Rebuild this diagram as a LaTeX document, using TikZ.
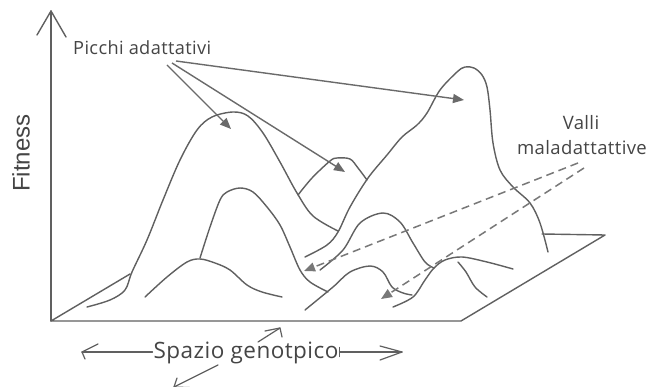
\documentclass[tikz,border=0pt]{standalone}
\usepackage{fontspec}
\setmainfont{Open Sans}[LetterSpace=2]
\newfontfamily\arialfont{Liberation Sans}
\usetikzlibrary{arrows.meta}
\definecolor{ink}{HTML}{606060}
\definecolor{txt}{HTML}{454545}
\definecolor{arr}{HTML}{6A6A6A}
\definecolor{dsh}{HTML}{787878}
\begin{document}
\begin{tikzpicture}[x=1pt,y=-1pt,
  curve/.style={draw=ink,line width=1.4pt,line join=round,line cap=round},
  thin/.style={draw=ink,line width=1.2pt,line join=round,line cap=round},
  ptr/.style={draw=arr,line width=1.4pt,-{Triangle[length=11pt,width=9pt]}},
  dptr/.style={draw=dsh,line width=1.5pt,dash pattern=on 8pt off 5pt,-{Triangle[length=11pt,width=9pt]}},
  lbl/.style={text=txt,inner sep=0pt}]
\useasboundingbox (0,0) rectangle (647,387);
\fill[white] (0,0) rectangle (647,387);

% axes and plane
\draw[curve] (51,321) -- (51,11);
\draw[curve] (37,35) -- (51,11) -- (66,37);
\draw[curve] (130,274) -- (51,321) -- (461,321) -- (605,235) -- (542,234);

% peaks
\draw[curve] plot[smooth,tension=0.55] coordinates {(87,307) (110,300) (125,290) (132,272) (147,240) (163,200) (180,160) (197,130) (212,117) (233,112) (248,116) (263,133) (280,162) (297,193) (313,216) (338,231)};
\draw[curve] plot[smooth,tension=0.55] coordinates {(298,195) (312,178) (330,161) (337,158) (350,159) (358,168) (367,180)};
\draw[curve] plot[smooth,tension=0.55] coordinates {(305,257) (327,245) (338,232) (350,207) (368,178) (387,155) (402,137) (417,125) (427,113) (440,90) (457,72) (465,67) (474,68) (482,75) (487,87) (490,110) (493,143) (500,170) (513,187) (530,203) (540,223) (548,252)};
\draw[curve] plot[smooth,tension=0.55] coordinates {(200,258) (210,227) (220,200) (227,192) (240,188) (253,192) (267,207) (280,225) (290,247) (300,270) (310,282) (328,292)};
\draw[curve] plot[smooth,tension=0.55] coordinates {(145,297) (167,277) (187,262) (200,259) (215,263) (230,270) (247,285) (262,292) (282,297)};
\draw[curve] plot[smooth,tension=0.55] coordinates {(320,270) (343,250) (360,223) (383,213) (400,222) (413,243) (425,262) (434,268)};
\draw[curve] plot[smooth,tension=0.55] coordinates {(393,307) (413,297) (425,280) (434,268) (445,260) (462,257) (487,262) (513,269)};
\draw[curve] plot[smooth,tension=0.55] coordinates {(458,262) (466,272) (475,287) (487,297)};
\draw[curve] plot[smooth,tension=0.55] coordinates {(305,310) (333,287) (350,272) (370,266) (383,272) (392,287) (403,293) (412,295)};

% labels
\node[lbl,anchor=base west,font=\fontsize{18.2}{20}\selectfont] (picchi) at (73,55) {Picchi adattativi};
\node[lbl,anchor=base,rotate=90,font=\arialfont\fontsize{24}{26}\selectfont] (fit) at (29.5,153) {Fitness};
\node[lbl,anchor=base,font=\fontsize{18.5}{20}\selectfont] (valli) at (581,130) {Valli};
\node[lbl,anchor=base,font=\fontsize{18.5}{20}\selectfont] (mala) at (582,155) {maladattattive};
\node[lbl,anchor=base,font=\fontsize{22.5}{26}\selectfont,inner xsep=1pt] (spazio) at (246,358) {Spazio genotpico};

% pointer arrows
\coordinate (s1) at (167,65); \coordinate (t1) at (231,129);
\coordinate (s2) at (172,63); \coordinate (t2) at (345,172);
\coordinate (s3) at (176,61); \coordinate (t3) at (464,100);
\draw[ptr] (s1) -- (t1);
\draw[ptr] (s2) -- (t2);
\draw[ptr] (s3) -- (t3);
\coordinate (d1) at (578,163); \coordinate (e1) at (304,271);
\coordinate (d2) at (584,168); \coordinate (e2) at (381,299);
\draw[dptr] (d1) -- (e1);
\draw[dptr] (d2) -- (e2);

% genotype space arrows
\coordinate (lt) at (82,352);
\coordinate (rt) at (402,352);
\draw[thin] (spazio.west |- lt) -- (lt);
\draw[thin] (98,344) -- (lt) -- (85,359);
\draw[thin] (spazio.east |- rt) -- (rt);
\draw[thin] (380,346) -- (rt) -- (380,360);
\draw[thin] ([yshift=4.5pt]spazio.east |- rt) -- ([yshift=-4.5pt]spazio.east |- rt);
\coordinate (ua) at (258,342); \coordinate (ub) at (280,328);
\draw[thin] (ua) -- (ub);
\draw[thin] (265,331) -- (ub) -- (282,337);
\coordinate (da) at (218,365); \coordinate (db) at (174,387);
\draw[thin] (da) -- (db);
\draw[thin] (177,378) -- (db) -- (200,388);
\end{tikzpicture}
\end{document}
